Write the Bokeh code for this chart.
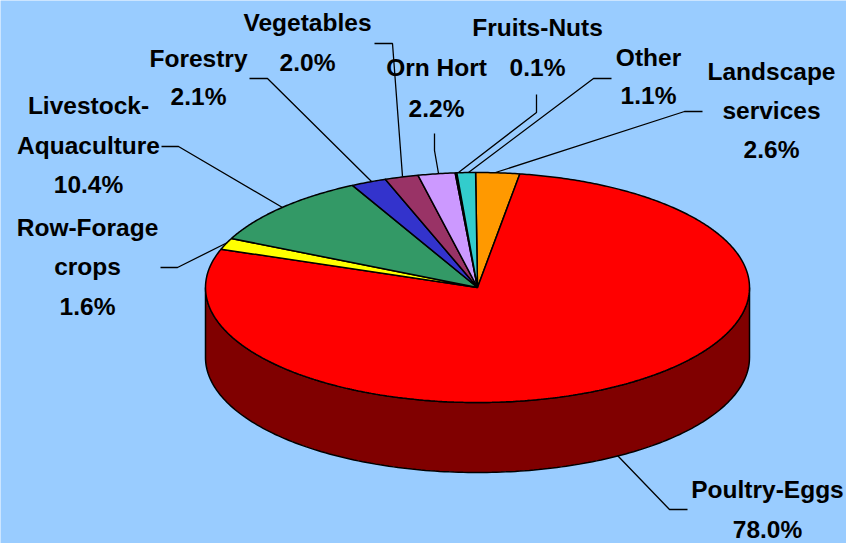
import math
from bokeh.plotting import figure
from bokeh.embed import file_html
from bokeh.resources import INLINE
from bokeh.core.properties import value

# Data, clockwise from twelve o'clock
categories = ["Landscape services", "Poultry-Eggs", "Row-Forage crops", "Livestock-Aquaculture",
              "Forestry", "Vegetables", "Orn Hort", "Fruits-Nuts", "Other"]
shares = [2.6, 78.0, 1.6, 10.4, 2.1, 2.0, 2.2, 0.1, 1.1]
colors = ["#ff9900", "#ff0000", "#ffff00", "#339966", "#3333cc", "#993366", "#cc99ff", "#000000", "#33cccc"]
wall_color = "#800000"

label_lines = [
    ["Landscape", "services", "2.6%"], ["Poultry-Eggs", "78.0%"], ["Row-Forage", "crops", "1.6%"],
    ["Livestock-", "Aquaculture", "10.4%"], ["Forestry", "2.1%"], ["Vegetables", "2.0%"],
    ["Orn Hort", "2.2%"], ["Fruits-Nuts", "0.1%"], ["Other", "1.1%"],
]

# Layout (page pixels)
W, H = 846, 543
CX, CY, RX, RY, DEPTH = 477, 287, 272, 115, 70
START_DEG = -0.4
BG = "#99ccff"
label_pos = [(771, [71, 110, 149]), (767, [489, 529]), (87, [227, 266, 306]), (88, [105, 145, 184]),
             (198, [58, 96]), (307, [22, 62]), (436, [67, 108]), (537, [27, 67]), (648, [57, 95])]
leaders = [
    [(702, 111), (684, 111), (495, 172)],
    [(617, 455), (669, 509), (687, 509)],
    [(227, 242), (177, 267), (160, 267)],
    [(161, 146), (178, 146), (282, 207)],
    [(249, 78), (267, 78), (371, 181)],
    [(374, 43), (392, 43), (402, 176)],
    [(434, 133), (434, 150), (438, 173)],
    [(536, 94), (536, 112), (458, 172)],
    [(611, 78), (593, 78), (468, 172)],
]
FONT_PX = 24.5

p = figure(width=W, height=H, x_range=(0, W), y_range=(H, 0), toolbar_location=None,
           output_backend="svg", min_border=0, outline_line_color=None,
           background_fill_color=BG, border_fill_color=BG)
p.axis.visible = False
p.grid.visible = False


def rim(deg, dy=0.0):
    a = math.radians(deg)
    return CX + RX * math.sin(a), CY - RY * math.cos(a) + dy


total = sum(shares)
edges = [START_DEG]
for s in shares:
    edges.append(edges[-1] + s / total * 360)

# Front wall (the part of the rim that faces the viewer)
arc = [rim(90 + i) for i in range(181)]
wall = arc + [rim(270 - i, DEPTH) for i in range(181)]
p.patch([q[0] for q in wall], [q[1] for q in wall], fill_color=wall_color,
        line_color="black", line_width=1.5)

# Top face
xs, ys = [], []
for a0, a1 in zip(edges[:-1], edges[1:]):
    n = max(2, int((a1 - a0) * 2))
    pts = [(CX, CY)] + [rim(a0 + (a1 - a0) * i / n) for i in range(n + 1)]
    xs.append([q[0] for q in pts])
    ys.append([q[1] for q in pts])
p.patches(xs, ys, fill_color=colors, line_color="black", line_width=1.5)

# Leader lines
p.multi_line([[q[0] for q in l] for l in leaders], [[q[1] for q in l] for l in leaders],
             line_color="black", line_width=1.3)

# Labels
tx, ty, tt = [], [], []
for lines, (x, yl) in zip(label_lines, label_pos):
    for line, y in zip(lines, yl):
        tx.append(x); ty.append(y); tt.append(line)
p.text(tx, ty, text=tt, text_font=value("Liberation Sans"), text_font_style="bold",
       text_font_size=f"{FONT_PX}px", text_color="black", text_align="center", text_baseline="middle")

open("out.html", "w").write(file_html(p, INLINE))
